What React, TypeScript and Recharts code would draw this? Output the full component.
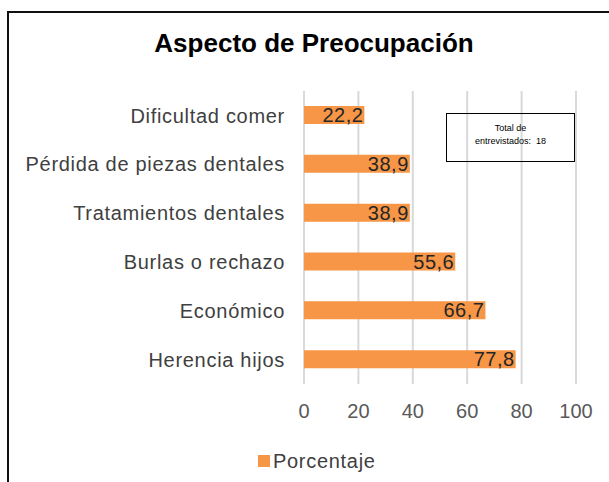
import React from 'react';
import { BarChart, Bar, XAxis, YAxis, CartesianGrid, LabelList, Legend } from 'recharts';

const categories = [
  'Dificultad comer',
  'Pérdida de piezas dentales',
  'Tratamientos dentales',
  'Burlas o rechazo',
  'Económico',
  'Herencia hijos',
];
const porcentaje = [22.2, 38.9, 38.9, 55.6, 66.7, 77.8];
const xTicks = [0, 20, 40, 60, 80, 100];
const seriesName = 'Porcentaje';
const chartTitle = 'Aspecto de Preocupación';
const noteLine1 = 'Total de';
const noteLine2 = 'entrevistados:  18';

const data = categories.map((name, i) => ({ name, value: porcentaje[i] }));

const BAR_COLOR = '#F79646';
const FONT = '"Liberation Sans", Arial, sans-serif';

const renderLegend = () => (
  <div style={{ display: 'flex', alignItems: 'center', fontFamily: FONT }}>
    <span style={{ display: 'inline-block', width: 12, height: 12, background: BAR_COLOR, marginRight: 3 }} />
    <span style={{ fontSize: 20, letterSpacing: 0.7, color: '#404040', lineHeight: '24px' }}>{seriesName}</span>
  </div>
);

export default function App() {
  return (
    <div
      style={{
        position: 'relative',
        width: 609,
        height: 482,
        overflow: 'hidden',
        fontFamily: FONT,
        background: '#fff',
      }}
    >
      <style>{`html,body{margin:0;padding:0;overflow:hidden;}`}</style>
      <div
        style={{
          position: 'absolute',
          left: 7,
          top: 11,
          width: 700,
          height: 600,
          border: '2px solid #111',
          boxSizing: 'border-box',
        }}
      />
      <div
        style={{
          position: 'absolute',
          left: 114,
          width: 400,
          top: 28,
          textAlign: 'center',
          fontSize: 26,
          fontWeight: 'bold',
          lineHeight: '30px',
          color: '#000',
        }}
      >
        {chartTitle}
      </div>
      <div style={{ position: 'absolute', left: 8, top: 8 }}>
        <BarChart
          width={593}
          height={466}
          data={data}
          layout="vertical"
          margin={{ top: 83, right: 25, left: 0, bottom: 60 }}
        >
          <CartesianGrid horizontal={false} vertical={true} stroke="#d9d9d9" strokeWidth={2} />
          <XAxis
            type="number"
            domain={[0, 100]}
            ticks={xTicks}
            interval={0}
            axisLine={false}
            tickLine={false}
            tickMargin={14}
            height={30}
            tick={{ fontSize: 20, fill: '#595959' }}
          />
          <YAxis
            type="category"
            dataKey="name"
            width={296}
            axisLine={false}
            tickLine={false}
            tickMargin={13}
            interval={0}
            tick={{ fontSize: 20, fill: '#404040', letterSpacing: 0.7 }}
          />
          <Legend
            layout="horizontal"
            verticalAlign="middle"
            align="center"
            wrapperStyle={{ left: 250, top: 441, width: 200, height: 26 }}
            content={renderLegend}
          />
          <Bar dataKey="value" name={seriesName} fill={BAR_COLOR} barSize={18} isAnimationActive={false}>
            <LabelList
              dataKey="value"
              position="insideRight"
              offset={1}
              formatter={(v: number) => v.toFixed(1).replace('.', ',')}
              style={{ fontSize: 20, fill: '#262626', letterSpacing: 0.5 }}
            />
          </Bar>
        </BarChart>
      </div>
      <div
        style={{
          position: 'absolute',
          left: 446,
          top: 113,
          width: 129,
          height: 49,
          border: '1.5px solid #000',
          boxSizing: 'border-box',
          display: 'flex',
          flexDirection: 'column',
          justifyContent: 'center',
          alignItems: 'center',
          fontSize: 9,
          lineHeight: '13px',
          color: '#000',
          paddingBottom: 6,
          whiteSpace: 'pre',
        }}
      >
        <div>{noteLine1}</div>
        <div>{noteLine2}</div>
      </div>
    </div>
  );
}
